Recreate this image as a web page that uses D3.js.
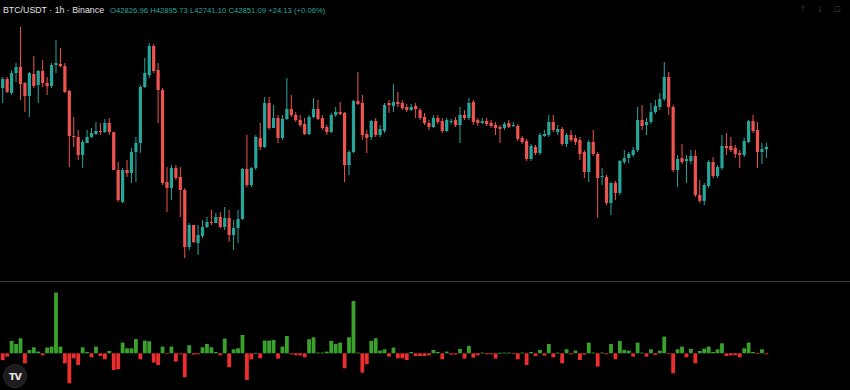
<!DOCTYPE html>
<html lang="en">
<head>
<meta charset="UTF-8">
<title>BTC/USDT 1h</title>
<script src="https://d3js.org/d3.v7.min.js"></script>
<style>
  html, body { margin: 0; padding: 0; background: #000; }
  svg { display: block; }
</style>
</head>
<body>
<div id="chart"></div>
<script>
// hourly candles (oldest first)
const opens = [43440,43530,43390,43590,43650,43490,43360,43580,43470,43610,43490,43460,43670,43680,43660,43410,42960,42950,42770,42890,
  42950,42980,43010,43000,43090,43000,42620,42300,42620,42590,42800,42890,43450,43570,43860,43620,43420,42500,42440,42640,
  42550,42420,41850,42070,41890,41960,42050,42100,42090,42150,42050,42140,41970,42040,42130,42630,42470,42640,42940,42850,
  43290,43040,43140,42940,43130,43230,43170,43120,43080,42980,43150,43230,43140,43050,43000,43170,43200,43190,42670,42800,
  43310,43290,42980,42950,43110,42970,43010,43290,43260,43300,43290,43250,43220,43260,43220,43150,43090,43050,43140,43110,
  43010,43100,43120,43070,43170,43140,43300,43120,43090,43110,43090,43070,43050,43040,43090,43060,43060,42940,42910,42730,
  42850,42790,42960,42970,43100,43000,43030,42880,42970,42940,42920,42800,42600,42900,42780,42550,42550,42290,42490,42390,
  42700,42740,42770,42820,43120,43070,43100,43200,43250,43330,43550,43250,42620,42740,42710,42710,42760,42370,42310,42460,
  42700,42560,42640,42860,42860,42840,42790,42770,42900,43110,43020,42800,42826.96];
const highs = [43550,43550,43620,43690,44050,43500,43600,43760,43620,43720,43550,43690,43920,43840,43690,43420,43150,43020,42920,43020,
  43040,43100,43090,43130,43140,43000,42700,42640,42720,42840,42950,43470,43740,43890,43880,43690,43440,42650,42670,42670,
  42650,42440,42090,42070,42070,42120,42150,42220,42190,42200,42250,42220,42120,42220,42640,42970,42650,42970,43090,43350,
  43350,43270,43170,43170,43540,43370,43200,43170,43140,43170,43340,43320,43170,43070,43190,43250,43300,43200,42820,43320,
  43600,43370,43020,43120,43140,43070,43290,43320,43480,43400,43320,43280,43280,43290,43240,43190,43120,43170,43170,43140,
  43140,43130,43150,43250,43220,43340,43320,43140,43140,43140,43120,43100,43070,43100,43120,43100,43080,42960,42930,42880,
  42870,42990,43020,43170,43170,43070,43050,42990,43020,42970,42950,42820,42920,43020,42800,42640,42570,42500,42510,42720,
  42820,42800,42850,43250,43270,43140,43290,43320,43390,43700,43600,43270,42770,42880,42770,42820,42820,42520,42490,42720,
  42750,42670,42970,42990,42950,42870,42820,42940,43120,43170,43100,42890,42895.73];
const lows = [43290,43390,43370,43500,43320,43200,43150,43440,43290,43450,43370,43440,43590,43650,43390,42650,42850,42720,42640,42890,
  42940,42970,42970,42990,42970,42620,42300,42290,42550,42490,42500,42790,43440,43540,43590,43090,42470,42200,42320,42520,
  42150,41740,41820,41890,41770,41940,42040,42070,42090,42040,42020,41900,41820,41890,42120,42450,42450,42620,42820,42840,
  43020,43040,42890,42920,43120,43150,43100,43050,42970,42970,43140,43120,43020,42970,42990,43150,43170,42500,42570,42790,
  43270,42920,42790,42920,42950,42950,42990,43190,43200,43250,43220,43200,43210,43140,43120,43070,43020,43040,43080,42990,
  43000,43080,43050,42890,43120,43120,43070,43060,43080,43060,43040,42970,42890,43020,43040,43050,42910,42880,42710,42710,
  42770,42770,42950,42950,43000,42970,42860,42850,42900,42870,42720,42540,42500,42760,42140,42470,42270,42170,42320,42370,
  42680,42690,42750,42800,43020,42970,43080,43180,43220,43310,43170,42600,42450,42680,42490,42680,42350,42290,42270,42440,
  42540,42540,42620,42770,42800,42740,42640,42750,42890,42990,42640,42680,42741.10];
const closes = [43530,43400,43590,43650,43480,43360,43590,43460,43610,43490,43460,43670,43690,43660,43400,42960,42950,42770,42900,42950,
  42990,43010,43000,43090,43000,42620,42320,42620,42590,42800,42890,43450,43590,43860,43610,43420,42490,42440,42640,42540,
  42420,41850,42070,41900,41970,42050,42100,42090,42150,42050,42140,41970,42040,42130,42630,42470,42640,42950,42850,43290,
  43040,43140,42940,43130,43230,43170,43120,43070,42980,43150,43230,43130,43040,43000,43170,43200,43180,42670,42800,43310,
  43280,42970,42940,43110,42970,43030,43270,43270,43300,43280,43240,43220,43250,43230,43140,43090,43050,43140,43100,43010,
  43120,43110,43070,43170,43140,43290,43100,43090,43110,43080,43060,43040,43030,43080,43050,43070,42930,42900,42730,42860,
  42790,42970,42980,43100,43020,43030,42880,42970,42920,42900,42780,42600,42900,42780,42540,42560,42290,42490,42390,42710,
  42740,42780,42820,43120,43060,43100,43200,43260,43330,43550,43250,42620,42730,42700,42730,42760,42370,42310,42470,42700,
  42560,42650,42860,42840,42820,42780,42770,42910,43110,43010,42800,42830,42851.09];
// lower pane histogram (green above zero, red below)
const delta = [-67,-33,123,93,150,-100,33,60,17,-20,57,67,607,67,-100,-300,-50,-117,60,13,
  -40,67,-27,-60,23,-167,-160,107,50,50,143,-60,127,120,-93,-117,67,-5,67,-83,
  -10,-240,80,-13,-10,60,93,60,13,-20,147,-140,40,50,183,-267,-60,5,-50,127,
  127,133,-53,67,173,-10,-20,-20,-40,140,160,7,7,17,123,93,107,-150,160,523,
  7,-193,-110,123,150,27,40,-33,57,-50,-50,-67,13,-27,-27,-27,-20,33,13,-60,
  17,-13,-13,43,-53,73,-43,-20,7,-10,-10,-53,5,7,7,-7,-60,7,-117,13,
  -27,33,-23,93,-40,7,-100,40,-10,27,-67,-13,107,7,-133,7,-10,93,-60,123,
  33,27,-33,107,7,-33,40,-17,27,167,-5,-200,40,67,-40,43,-100,23,47,67,
  13,40,100,-27,-20,-20,-40,50,107,13,-5,40,-10];

const title = "BTC/USDT · 1h · Binance";
const last = opens.length - 1;
const chg = closes[last] - closes[last - 1];
const ohlcText = `O${opens[last].toFixed(2)} H${highs[last].toFixed(2)} L${lows[last].toFixed(2)} C${closes[last].toFixed(2)} +24.13 (+0.06%)`;

const W = 850, H = 390;
const UP = "#26a69a", DOWN = "#ef5350";
const HUP = "#3aa22c", HDOWN = "#ee2e2e";

const svg = d3.select("#chart").append("svg")
  .attr("width", W).attr("height", H)
  .style("background", "#000");

const x = d3.scaleBand()
  .domain(d3.range(opens.length))
  .range([0.5, 768.6]);

const y = d3.scaleLinear().domain([41500, 44320]).range([282, 0]);
const yv = d3.scaleLinear().domain([-360, 720]).range([389.3, 281.3]);

const cx = i => x(i) + x.bandwidth() / 2;

// candles
const candles = svg.append("g").selectAll("g")
  .data(d3.range(opens.length))
  .join("g")
  .attr("fill", i => closes[i] >= opens[i] ? UP : DOWN)
  .attr("stroke", i => closes[i] >= opens[i] ? UP : DOWN);

candles.append("line")
  .attr("x1", cx).attr("x2", cx)
  .attr("y1", i => y(highs[i])).attr("y2", i => y(lows[i]))
  .attr("stroke-width", 1);

candles.append("rect")
  .attr("x", i => cx(i) - 1.6)
  .attr("width", 3.2)
  .attr("y", i => y(Math.max(opens[i], closes[i])))
  .attr("height", i => Math.max(1, Math.abs(y(opens[i]) - y(closes[i]))))
  .attr("stroke", "none");

// pane divider
svg.append("line")
  .attr("x1", 0).attr("x2", W)
  .attr("y1", 281.5).attr("y2", 281.5)
  .attr("stroke", "#3b3b3b");

// histogram
svg.append("g").selectAll("rect")
  .data(delta)
  .join("rect")
  .attr("x", (d, i) => cx(i) - 1.9)
  .attr("width", 3.8)
  .attr("y", d => d >= 0 ? yv(d) : yv(0))
  .attr("height", d => Math.max(0.8, Math.abs(yv(d) - yv(0))))
  .attr("fill", d => d >= 0 ? HUP : HDOWN);

// header
svg.append("text")
  .attr("x", 3).attr("y", 13)
  .attr("fill", "#e2e2e2")
  .attr("font-family", "'Liberation Sans', Arial, sans-serif")
  .attr("font-size", "8.8px")
  .text(title);

svg.append("text")
  .attr("x", 110).attr("y", 13)
  .attr("fill", chg >= 0 ? UP : DOWN)
  .attr("font-family", "'Liberation Sans', Arial, sans-serif")
  .attr("font-size", "7.7px")
  .text(ohlcText);

// faint toolbar icons, top right
svg.append("g")
  .attr("fill", "#2e2e2e")
  .attr("font-family", "'DejaVu Sans', sans-serif")
  .attr("font-size", "9px")
  .attr("text-anchor", "middle")
  .selectAll("text")
  .data(["↑", "↓", "⊡"])
  .join("text")
  .attr("x", (d, i) => 803 + i * 17)
  .attr("y", 12)
  .text(d => d);

// logo badge
const logo = svg.append("g").attr("transform", "translate(15,376)");
logo.append("circle").attr("r", 11.5).attr("fill", "#1c1c1f").attr("stroke", "#2c2c30");
logo.append("text")
  .attr("text-anchor", "middle").attr("y", 3.5)
  .attr("fill", "#e8e8e8")
  .attr("font-family", "'DejaVu Sans', sans-serif")
  .attr("font-weight", "bold")
  .attr("font-size", "9.5px")
  .attr("letter-spacing", "-1px")
  .text("TV");
</script>
</body>
</html>
